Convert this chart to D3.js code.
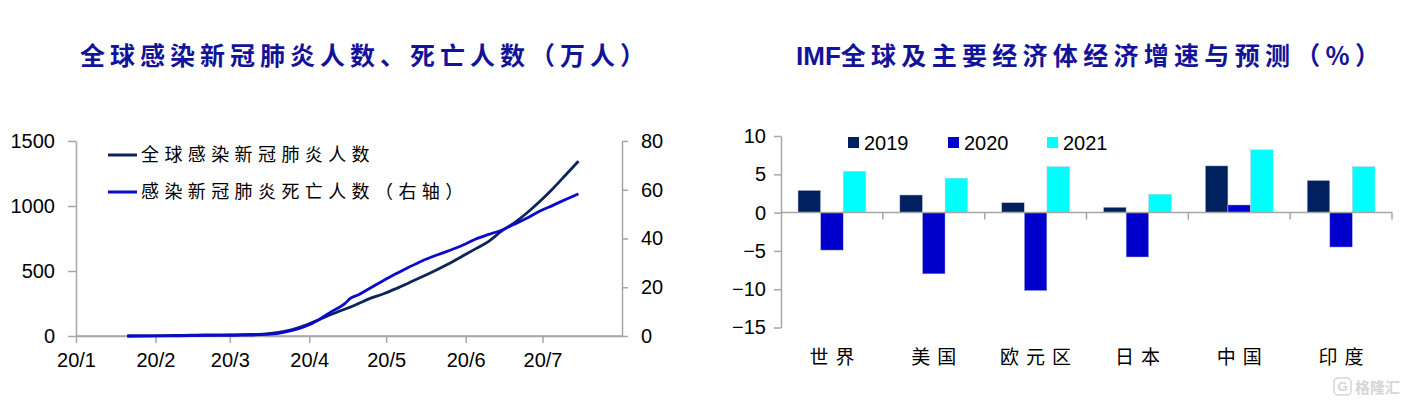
<!DOCTYPE html>
<html><head><meta charset="utf-8">
<script src="https://cdn.jsdelivr.net/npm/d3@7"></script>
<style>
html,body{margin:0;padding:0;background:#fff;}
svg{display:block;}
text{font-family:"Liberation Sans",Arial,sans-serif;}
.cjk{font-family:"Noto Sans CJK SC","Noto Sans",sans-serif;}
</style></head>
<body>
<svg id="c" width="1408" height="403"></svg>
<script>
// ---------- Left chart data ----------
const leftTitle = "全球感染新冠肺炎人数、死亡人数（万人）";
const seriesNames = ["全球感染新冠肺炎人数", "感染新冠肺炎死亡人数（右轴）"];
const dates = ["2020-01-21","2020-01-25","2020-01-31","2020-02-05","2020-02-10","2020-02-15","2020-02-20","2020-02-25",
  "2020-03-01","2020-03-05","2020-03-10","2020-03-15","2020-03-20","2020-03-25","2020-03-31","2020-04-05","2020-04-10",
  "2020-04-15","2020-04-17","2020-04-20","2020-04-25","2020-04-30","2020-05-05","2020-05-10","2020-05-15","2020-05-20",
  "2020-05-25","2020-05-31","2020-06-05","2020-06-10","2020-06-15","2020-06-20","2020-06-25","2020-06-30","2020-07-05",
  "2020-07-10","2020-07-15"];
const cases = [0.03,0.2,1.0,2.8,4.3,6.9,7.6,8.1,8.8,9.8,11.9,16.7,27.5,47.2,85.8,127,169,
  208,222,248,291,325,366,410,455,502,552,617,672,728,806,871,948,1036,1133,1238,1345];
const deaths = [0.001,0.01,0.02,0.06,0.1,0.16,0.22,0.27,0.3,0.34,0.42,0.65,1.1,2.2,4.2,6.9,10.2,
  13.4,15.4,16.8,19.8,22.8,25.6,28.3,30.8,32.9,34.8,37.3,39.8,41.7,43.4,45.9,48.4,51.3,53.6,56.0,58.3];
const leftTicks = [0,500,1000,1500];
const rightTicks = [0,20,40,60,80];
const monthTicks = ["2020-01-01","2020-02-01","2020-03-01","2020-04-01","2020-05-01","2020-06-01","2020-07-01"];

// ---------- Right chart data ----------
const rightTitlePre = "IMF";
const rightTitleRest = "全球及主要经济体经济增速与预测（%）";
const regions = ["世界","美国","欧元区","日本","中国","印度"];
const years = ["2019","2020","2021"];
const g2019 = [2.9, 2.3, 1.3, 0.7, 6.1, 4.2];
const g2020 = [-4.9, -8.0, -10.2, -5.8, 1.0, -4.5];
const g2021 = [5.4, 4.5, 6.0, 2.4, 8.2, 6.0];
const growthTicks = [-15,-10,-5,0,5,10];

const svg = d3.select("#c");
const axisCol = "#a6a6a6";
const titleCol = "#13139a";

// ================= LEFT CHART =================
const parse = d3.timeParse("%Y-%m-%d");
const x = d3.scaleTime().domain([parse("2020-01-01"), parse("2020-08-01")]).range([76, 622]);
const yL = d3.scaleLinear().domain([0,1500]).range([336,141]);
const yR = d3.scaleLinear().domain([0,80]).range([336,141]);

svg.append("text").attr("class","cjk").attr("x",80).attr("y",65)
  .attr("font-size",25).attr("font-weight","bold").attr("letter-spacing",5).attr("fill",titleCol).text(leftTitle);

const gL = svg.append("g").attr("transform","translate(76,0)")
  .call(d3.axisLeft(yL).tickValues(leftTicks).tickFormat(d3.format("d")).tickSize(8).tickSizeOuter(0).tickPadding(13));
const gR = svg.append("g").attr("transform","translate(622,0)")
  .call(d3.axisRight(yR).tickValues(rightTicks).tickFormat(d3.format("d")).tickSize(6).tickSizeOuter(0).tickPadding(13));
const gX = svg.append("g").attr("transform","translate(0,336)")
  .call(d3.axisBottom(x).tickValues(monthTicks.map(parse)).tickFormat(d3.timeFormat("20/%-m")).tickSize(7).tickSizeOuter(0).tickPadding(10));
gX.append("line").attr("x1",76).attr("x2",622).attr("y1",0).attr("y2",0);
[gL,gR,gX].forEach(g=>{
  g.selectAll("path,line").attr("stroke",axisCol).attr("stroke-width",1.5);
  g.selectAll("text").attr("font-size",20).attr("fill","#000").attr("font-family","Liberation Sans, Arial, sans-serif");
});

const pts = dates.map((d,i)=>({d:parse(d), c:cases[i], k:deaths[i]}));
const lineC = d3.line().x(p=>x(p.d)).y(p=>yL(p.c)).curve(d3.curveMonotoneX);
const lineK = d3.line().x(p=>x(p.d)).y(p=>yR(p.k)).curve(d3.curveMonotoneX);
svg.append("path").datum(pts).attr("d",lineC).attr("fill","none").attr("stroke","#0c2459").attr("stroke-width",2.8);
svg.append("path").datum(pts).attr("d",lineK).attr("fill","none").attr("stroke","#0a0acc").attr("stroke-width",2.8);

const legCols = ["#0c2459","#0a0acc"];
seriesNames.forEach((n,i)=>{
  const yy = 155 + i*37;
  svg.append("line").attr("x1",108).attr("x2",137).attr("y1",yy).attr("y2",yy).attr("stroke",legCols[i]).attr("stroke-width",3);
  svg.append("text").attr("class","cjk").attr("x",141).attr("y",yy).attr("dy","0.36em")
    .attr("font-size",18).attr("letter-spacing",5.4).attr("fill","#000").text(n);
});

// ================= RIGHT CHART =================
const rt = svg.append("text").attr("class","cjk").attr("x",796).attr("y",65)
  .attr("font-size",25).attr("font-weight","bold").attr("fill",titleCol);
rt.append("tspan").attr("font-family","Liberation Sans, Arial, sans-serif").attr("font-size",26).text(rightTitlePre);
rt.append("tspan").attr("letter-spacing",5.3).text(rightTitleRest);

const xb = d3.scaleBand().domain(regions).range([781,1392]).paddingInner(0).paddingOuter(0);
const xs = d3.scaleBand().domain(years).range([17, xb.bandwidth()-17]);
const yG = d3.scaleLinear().domain([-15,10]).range([327.5,136]);
const barCols = {"2019":"#002060","2020":"#0000cc","2021":"#00ffff"};
const vals = {"2019":g2019,"2020":g2020,"2021":g2021};

const gY2 = svg.append("g").attr("transform","translate(781,0)")
  .call(d3.axisLeft(yG).tickValues(growthTicks).tickSize(7).tickSizeOuter(0).tickPadding(8));
gY2.selectAll("path,line").attr("stroke",axisCol).attr("stroke-width",1.5);
gY2.selectAll("text").attr("font-size",20).attr("fill","#000");

regions.forEach((r,i)=>{
  years.forEach(yr=>{
    const v = vals[yr][i];
    svg.append("rect").attr("x",xb(r)+xs(yr)).attr("width",xs.bandwidth())
      .attr("y",yG(Math.max(0,v))).attr("height",Math.abs(yG(v)-yG(0)))
      .attr("fill",barCols[yr]).attr("stroke","#c8c8e0").attr("stroke-width",0.5);
  });
});

svg.append("line").attr("x1",781).attr("x2",1392).attr("y1",yG(0)).attr("y2",yG(0)).attr("stroke",axisCol).attr("stroke-width",1.5);
regions.forEach((r,i)=>{
  const xx = xb(r)+xb.bandwidth();
  svg.append("line").attr("x1",xx).attr("x2",xx).attr("y1",yG(0)).attr("y2",yG(0)+7).attr("stroke",axisCol).attr("stroke-width",1.5);
  svg.append("text").attr("class","cjk").attr("x",xb(r)+xb.bandwidth()/2+3.5).attr("y",357).attr("dy","0.36em")
    .attr("text-anchor","middle").attr("font-size",19).attr("letter-spacing",7).attr("fill","#000").text(r);
});

const legX = [848, 948, 1047];
years.forEach((yr,i)=>{
  svg.append("rect").attr("x",legX[i]).attr("y",137).attr("width",11).attr("height",11).attr("fill",barCols[yr]);
  svg.append("text").attr("x",legX[i]+16).attr("y",143).attr("dy","0.36em").attr("font-size",20).attr("fill","#000").text(yr);
});

const wm = svg.append("g").attr("opacity",0.35);
wm.append("rect").attr("x",1334).attr("y",378).attr("width",17).attr("height",17).attr("rx",4).attr("fill","none").attr("stroke","#888").attr("stroke-width",1.5);
wm.append("text").attr("x",1342.5).attr("y",391).attr("text-anchor","middle").attr("font-size",13).attr("font-weight","bold").attr("fill","#888").text("G");
wm.append("text").attr("class","cjk").attr("x",1355).attr("y",393).attr("font-size",15).attr("font-weight","bold").attr("fill","#888").text("格隆汇");
</script>
</body></html>
